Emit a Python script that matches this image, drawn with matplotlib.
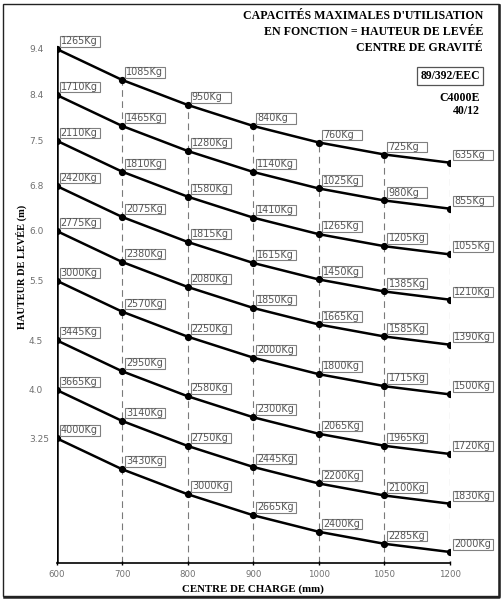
import matplotlib
matplotlib.use("Agg")
from matplotlib import pyplot as plt
from matplotlib import transforms as mtransforms
from matplotlib.patches import Rectangle
from matplotlib.lines import Line2D
import numpy as np

# Centres de charge (axe X, positions régulières)
centres = ["600", "700", "800", "900", "1000", "1050", "1200"]
# Hauteurs de levée (une courbe par hauteur)
hauteurs = ["9.4", "8.4", "7.5", "6.8", "6.0", "5.5", "4.5", "4.0", "3.25"]

# Capacités (Kg) par colonne, de la courbe du haut vers celle du bas
cap_600 = [1265, 1710, 2110, 2420, 2775, 3000, 3445, 3665, 4000]
cap_700 = [1085, 1465, 1810, 2075, 2380, 2570, 2950, 3140, 3430]
cap_800 = [950, 1280, 1580, 1815, 2080, 2250, 2580, 2750, 3000]
cap_900 = [840, 1140, 1410, 1615, 1850, 2000, 2300, 2445, 2665]
cap_1000 = [760, 1025, 1265, 1450, 1665, 1800, 2065, 2200, 2400]
cap_1050 = [725, 980, 1205, 1385, 1585, 1715, 1965, 2100, 2285]
cap_1200 = [635, 855, 1055, 1210, 1390, 1500, 1720, 1830, 2000]

# Niveau de départ de chaque courbe et descente commune (unités du graphique)
niveau = [514.3, 468.3, 422.6, 377.3, 332.3, 282.6, 223.0, 173.3, 125.0]
descente = [0, 31, 56, 77, 93.5, 105.5, 113.7]

colonnes = [cap_600, cap_700, cap_800, cap_900, cap_1000, cap_1050, cap_1200]
capacites = np.array(colonnes).T  # lignes = hauteurs

W, H = 502, 600
fig = plt.figure(figsize=(W / 100, H / 100), dpi=100)

serif = "Liberation Serif"

# Zone de tracé
x0, x1 = 56.7, 450.0
y_axe = 563.3
ax = fig.add_axes([x0 / W, (H - y_axe) / H, (x1 - x0) / W, 520 / H])
ax.set_xlim(0, len(centres) - 1)
ax.set_ylim(0, 520)
ax.patch.set_alpha(0)

xs = np.arange(len(centres))

# Ligne verticale gauche + pointillés
haut = niveau[0] - np.array(descente)
ax.plot([0, 0], [0, haut[0]], color="black", lw=1.8, solid_capstyle="butt", zorder=3)
for i in range(1, len(centres)):
    ax.plot([i, i], [0, haut[i]], color="#7a7a7a", lw=0.8,
            linestyle=(0, (6, 4)), zorder=1)

# Courbes
for k in range(len(hauteurs)):
    ys = niveau[k] - np.array(descente)
    ax.plot(xs, ys, color="black", lw=1.8, marker="o", ms=4.2, zorder=4,
            solid_joinstyle="round")
    for i in range(len(centres)):
        off = mtransforms.ScaledTranslation(xs[i], ys[i], ax.transData)
        tr = mtransforms.Affine2D() + off
        ax.add_patch(Rectangle((3, 2.5), 40, 10.5, transform=tr, fill=True,
                               facecolor="white", edgecolor="#808080", lw=0.8,
                               zorder=5, clip_on=False))
        ax.text(4.0, 7.9, f"{capacites[k, i]}Kg", transform=tr, fontsize=6.9,
                color="#555555", ha="left", va="center", zorder=6,
                family="DejaVu Sans")

# Axes
for s in ["top", "right", "left"]:
    ax.spines[s].set_visible(False)
ax.spines["bottom"].set_linewidth(1.2)
ax.set_xticks(xs)
ax.set_xticklabels(centres, fontsize=6.2, color="#707070")
ax.tick_params(axis="x", length=2.5, direction="inout", width=1, pad=3.5)
ax.set_yticks(niveau)
ax.set_yticklabels(hauteurs, fontsize=6.5, color="#707070", ha="left")
ax.tick_params(axis="y", length=0, pad=20)

ax.set_xlabel("CENTRE DE CHARGE (mm)", family=serif, weight="bold",
              fontsize=7.8, labelpad=4)
fig.text(21 / W, 1 - 267 / H, "HAUTEUR DE LEVÉE (m)", family=serif,
         weight="bold", fontsize=7.5, rotation=90, ha="center", va="center")

# Titre
titre = ["CAPACITÉS MAXIMALES D'UTILISATION",
         "EN FONCTION = HAUTEUR DE LEVÉE",
         "CENTRE DE GRAVITÉ"]
for j, ligne in enumerate(titre):
    fig.text(483 / W, 1 - (16 + 16.2 * j) / H, ligne, family=serif,
             weight="bold", fontsize=8.6, ha="right", va="center")

fig.text(450 / W, 1 - 76 / H, "89/392/EEC", family=serif, weight="bold",
         fontsize=8.4, ha="center", va="center",
         bbox=dict(boxstyle="square,pad=0.25", fc="white", ec="#555555", lw=0.9))
fig.text(480 / W, 1 - 98 / H, "C4000E", family=serif, weight="bold",
         fontsize=8.6, ha="right", va="center")
fig.text(480 / W, 1 - 110.5 / H, "40/12", family=serif, weight="bold",
         fontsize=8.6, ha="right", va="center")

# Cadre
fig.add_artist(Rectangle((3 / W, 1 - 596 / H), 496 / W, 592 / H,
                         transform=fig.transFigure, fill=False,
                         edgecolor="#222222", lw=1.0))
fig.add_artist(Line2D([4 / W, 499.5 / W, 499.5 / W],
                      [1 - 596.5 / H, 1 - 596.5 / H, 1 - 5 / H],
                      transform=fig.transFigure, color="#222222", lw=1.8))

fig.savefig("out.png", dpi=100)
